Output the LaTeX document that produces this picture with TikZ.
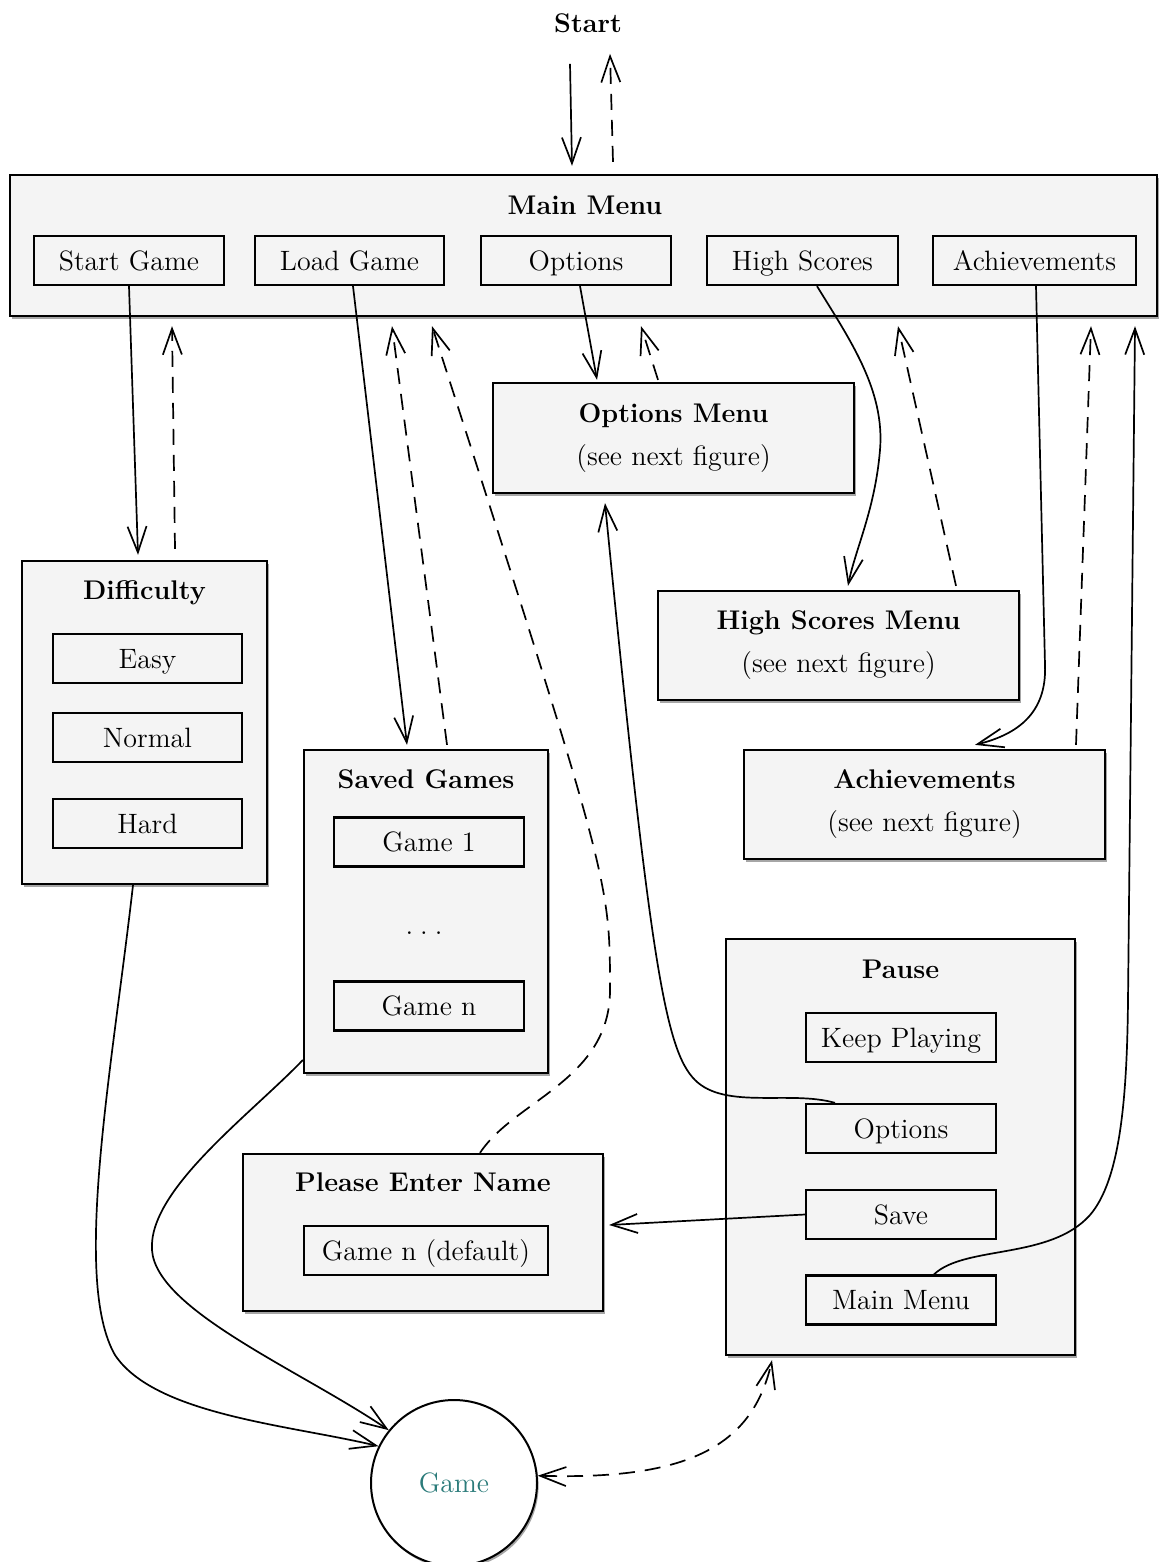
\documentclass[tikz,border=0pt]{standalone}
\usetikzlibrary{arrows.meta,shadows,calc}
\definecolor{boxfill}{HTML}{F4F4F4}
\definecolor{gameteal}{HTML}{2B7B7A}
\newcommand{\mynorm}{\fontsize{14}{16}\selectfont}
\newcommand{\mybold}{\fontsize{13.5}{16}\selectfont\bfseries}
\tikzset{
  shadowed/.style={drop shadow={shadow xshift=0.8pt,shadow yshift=-1.3pt,opacity=0.35,fill=black}},
  outerbox/.style={draw=black,line width=1.15pt,fill=boxfill,inner sep=0pt,shadowed},
  innerbox/.style={draw=black,line width=1.15pt,fill=boxfill,inner sep=0pt,minimum height=24.5pt,
    font=\mynorm,text height=10pt,text depth=0.4pt},
  titletext/.style={inner sep=0pt,font=\mybold,text height=9.7pt,text depth=0.4pt},
  plaintext/.style={inner sep=0pt,font=\mynorm,text height=10pt,text depth=0.4pt},
  arr/.style={->,line width=0.85pt},
  darr/.style={->,line width=0.85pt,dash pattern=on 8pt off 5pt},
}
\begin{document}
\begin{tikzpicture}[x=0.5pt,y=-0.5pt,>={Straight Barb[length=13pt,width=9.5pt]}]
\useasboundingbox (0,0) rectangle (1159,1562);
\fill[white] (0,0) rectangle (1159,1562);

% Main menu
\node[outerbox,minimum width=573.5pt,minimum height=70.5pt] (mm) at (583.5,245.5) {};
\node[titletext] (mmT) at (585,205) {Main Menu};
\node[innerbox,minimum width=95pt] (sg) at (129,260.5) {Start Game};
\node[innerbox,minimum width=94.5pt] (lg) at (349.5,260.5) {Load Game};
\node[innerbox,minimum width=95pt] (op) at (576,260.5) {Options};
\node[innerbox,minimum width=95.5pt] (hs) at (802.5,260.5) {High Scores};
\node[innerbox,minimum width=101.5pt] (ac) at (1034.5,260.5) {Achievements};
\node[titletext] (st) at (588,23) {Start};

% Difficulty
\node[outerbox,minimum width=122.5pt,minimum height=161.5pt] (dif) at (144.5,722.5) {};
\node[titletext] (difT) at (144.5,590) {Difficulty};
\node[innerbox,minimum width=94.5pt] (easy) at (147.5,658.5) {Easy};
\node[innerbox,minimum width=94.5pt] (normal) at (147.5,737.5) {Normal};
\node[innerbox,minimum width=94.5pt] (hard) at (147.5,823.5) {Hard};

% Saved games
\node[outerbox,minimum width=122pt,minimum height=161.5pt] (sv) at (426,911.5) {};
\node[titletext] (svT) at (426,779) {Saved Games};
\node[innerbox,minimum width=95pt] (g1) at (429,842) {Game 1};
\node[plaintext] (dots) at (424,925) {.\hspace{3.5pt}.\hspace{3.5pt}.};
\node[innerbox,minimum width=95pt] (gn) at (429,1006) {Game n};

% Options menu
\node[outerbox,minimum width=180.5pt,minimum height=55pt] (om) at (673.5,438) {};
\node[titletext] (omT) at (673.5,413) {Options Menu};
\node[plaintext] (omS) at (673.5,456) {(see next figure)};

% High scores menu
\node[outerbox,minimum width=180.5pt,minimum height=54.5pt] (hm) at (838.5,645.5) {};
\node[titletext] (hmT) at (838.5,620) {High Scores Menu};
\node[plaintext] (hmS) at (838.5,663) {(see next figure)};

% Achievements
\node[outerbox,minimum width=180.5pt,minimum height=54.5pt] (am) at (924.5,804.5) {};
\node[titletext] (amT) at (924.5,779) {Achievements};
\node[plaintext] (amS) at (924.5,822) {(see next figure)};

% Pause
\node[outerbox,minimum width=174.5pt,minimum height=208pt] (pause) at (900.5,1147) {};
\node[titletext] (pauseT) at (900.5,969) {Pause};
\node[innerbox,minimum width=95pt] (kp) at (901,1037.5) {Keep Playing};
\node[innerbox,minimum width=95pt] (po) at (901,1128.5) {Options};
\node[innerbox,minimum width=95pt] (ps) at (901,1214.5) {Save};
\node[innerbox,minimum width=95pt] (pm) at (901,1300) {Main Menu};

% Please enter name
\node[outerbox,minimum width=180pt,minimum height=78.5pt] (pen) at (423,1232.5) {};
\node[titletext] (penT) at (423,1182) {Please Enter Name};
\node[innerbox,minimum width=122pt] (gd) at (426,1250.5) {Game n (default)};

% Game
\node[circle,draw=black,line width=1pt,fill=white,minimum size=83pt,inner sep=0pt,shadowed,
  text=gameteal,font=\mynorm] (game) at (454,1483) {Game};

% Connectors
\draw[arr] ($(mm.north)+(-13.5,-110)$) -- ($(mm.north)+(-11.5,-8)$);
\draw[darr] ($(mm.north)+(29.5,-12)$) -- ($(mm.north)+(26.5,-120)$);

\draw[arr] (sg.south) -- ($(dif.north)+(-6.5,-5)$);
\draw[darr] ($(dif.north)+(30.5,-11)$) -- ($(mm.south)+(-411.5,9)$);

\draw[arr] ($(lg.south)+(3.5,0)$) -- ($(sv.north)+(-19,-4)$);
\draw[darr] ($(sv.north)+(21,-4)$) -- ($(mm.south)+(-191.5,9)$);

\draw[arr] ($(op.south)+(4,0)$) -- ($(om.north)+(-76.5,-2)$);
\draw[darr] ($(om.north)+(-15.5,-2)$) -- ($(mm.south)+(57.5,9)$);

\draw[arr] ($(hs.south)+(14.5,0)$) .. controls (850,340) and (885,390) .. (880,450)
  .. controls (875,510) and (855,550) .. ($(hm.north)+(9.5,-4)$);
\draw[darr] ($(hm.north)+(117.5,-4)$) -- ($(mm.south)+(314.5,9)$);

\draw[arr] ($(ac.south)+(1.5,0)$) -- (1045,665) .. controls (1047,715) and (1015,735) .. ($(am.north)+(50.5,-4)$);
\draw[darr] ($(am.north)+(151.5,-4)$) -- ($(mm.south)+(507.5,9)$);

\draw[arr] ($(pm.north)+(33,0)$) .. controls (965,1245) and (1050,1260) .. (1090,1215)
  .. controls (1120,1180) and (1127,1100) .. (1128,1000) -- ($(mm.south)+(551.5,9)$);

\draw[arr] ($(po.north)+(-66,0)$) .. controls (790,1090) and (725,1110) .. (695,1080)
  .. controls (665,1050) and (650,960) .. ($(om.south)+(-68.5,9)$);

\draw[arr] (ps.west) -- ($(pen.east)+(5,-7.5)$);

\draw[darr] ($(pen.north)+(57,0)$) .. controls (515,1100) and (610,1080) .. (610,990)
  .. controls (610,880) .. ($(mm.south)+(-151.5,9)$);

\draw[arr] ($(dif.south)+(-11.5,0)$) .. controls (112,1070) and (72,1280) .. (115,1355)
  .. controls (155,1415) and (290,1425) .. (game.154);
\draw[arr] ($(sv.west)+(0,148.5)$) .. controls (250,1115) and (148,1190) .. (152,1250)
  .. controls (156,1310) and (300,1370) .. (game.141);

\draw[darr,<->] (game.5) .. controls (685,1480) and (752,1448) .. ($(pause.south)+(-128.5,4)$);
\end{tikzpicture}
\end{document}
